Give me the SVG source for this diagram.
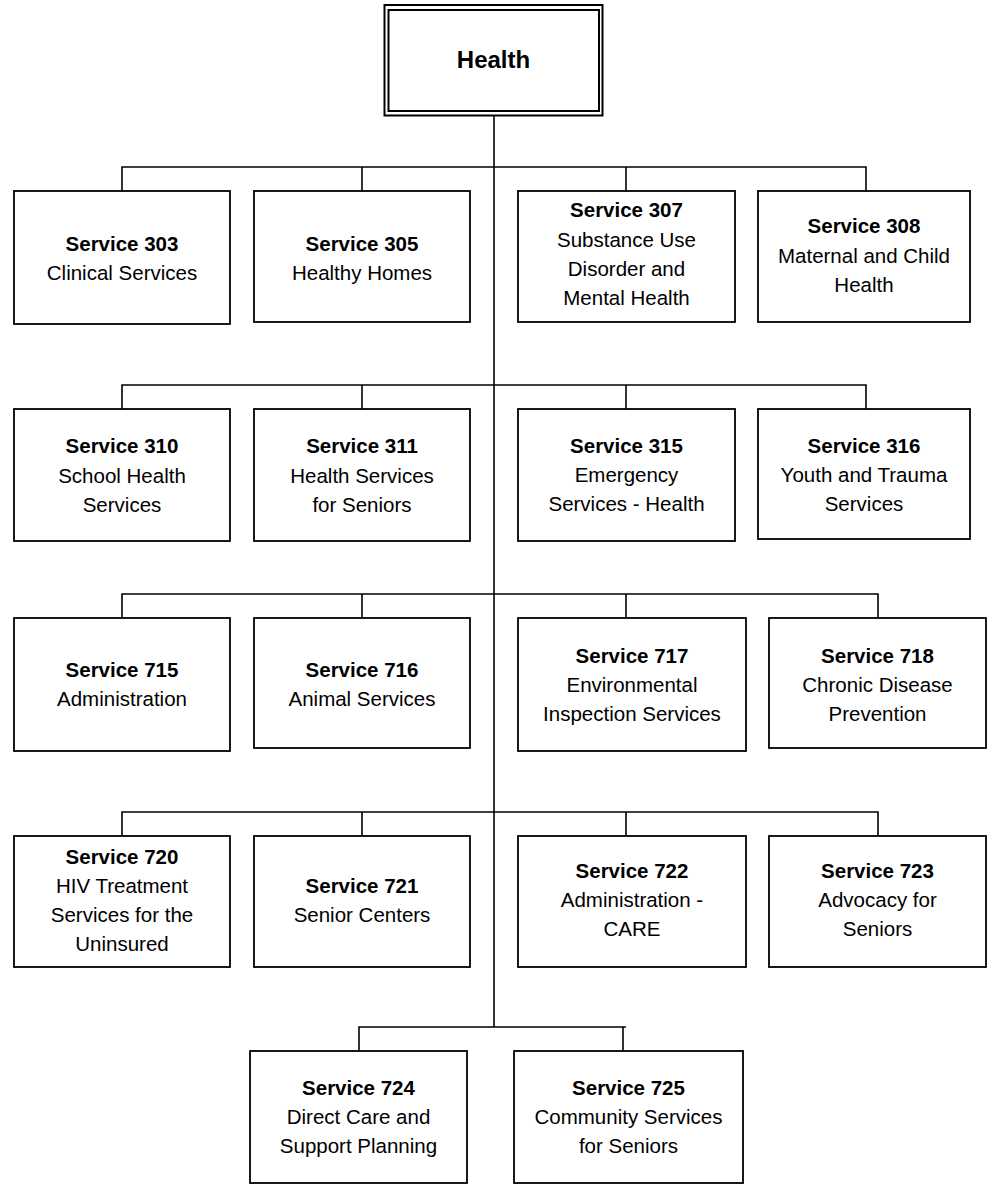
<svg xmlns="http://www.w3.org/2000/svg" width="992" height="1189" viewBox="0 0 992 1189">
<style>
.box{fill:#fff;stroke:#000;stroke-width:1.8}
.ln{fill:none;stroke:#000;stroke-width:1.6}
text{font-family:"Liberation Sans",Arial,sans-serif;font-size:20.5px;fill:#000;text-anchor:middle}
.b{font-weight:bold}
.h{font-weight:bold;font-size:24px}
</style>
<rect width="992" height="1189" fill="#fff"/>
<g id="connectors">
<path class="ln" d="M494 116V1027"/>
<path class="ln" d="M122 191V167H866V191M362 167V191M626 167V191"/>
<path class="ln" d="M122 409V385H866V409M362 385V409M626 385V409"/>
<path class="ln" d="M122 618V594H878V618M362 594V618M626 594V618"/>
<path class="ln" d="M122 836V812H878V836M362 812V836M626 812V836"/>
<path class="ln" d="M359 1051V1027H623V1051M623 1027H626"/>
</g>
<g id="health">
<rect x="384.5" y="5" width="218" height="110.5" fill="#fff" stroke="#000" stroke-width="2"/>
<rect x="388.5" y="10" width="210.5" height="101" fill="none" stroke="#000" stroke-width="2"/>
<text class="h" x="493.5" y="68">Health</text>
</g>
<g id="s303"><rect class="box" x="14" y="191" width="216" height="133"/><text x="122"><tspan class="b" x="122" y="251">Service 303</tspan><tspan x="122" y="280">Clinical Services</tspan></text></g>
<g id="s305"><rect class="box" x="254" y="191" width="216" height="131"/><text x="362"><tspan class="b" x="362" y="251">Service 305</tspan><tspan x="362" y="280">Healthy Homes</tspan></text></g>
<g id="s307"><rect class="box" x="518" y="191" width="217" height="131"/><text><tspan class="b" x="626.5" y="217">Service 307</tspan><tspan x="626.5" y="247">Substance Use</tspan><tspan x="626.5" y="276">Disorder and</tspan><tspan x="626.5" y="305">Mental Health</tspan></text></g>
<g id="s308"><rect class="box" x="758" y="191" width="212" height="131"/><text><tspan class="b" x="864" y="233">Service 308</tspan><tspan x="864" y="263">Maternal and Child</tspan><tspan x="864" y="292">Health</tspan></text></g>
<g id="s310"><rect class="box" x="14" y="409" width="216" height="132"/><text><tspan class="b" x="122" y="453">Service 310</tspan><tspan x="122" y="483">School Health</tspan><tspan x="122" y="512">Services</tspan></text></g>
<g id="s311"><rect class="box" x="254" y="409" width="216" height="132"/><text><tspan class="b" x="362" y="453">Service 311</tspan><tspan x="362" y="483">Health Services</tspan><tspan x="362" y="512">for Seniors</tspan></text></g>
<g id="s315"><rect class="box" x="518" y="409" width="217" height="132"/><text><tspan class="b" x="626.5" y="453">Service 315</tspan><tspan x="626.5" y="482">Emergency</tspan><tspan x="626.5" y="511">Services - Health</tspan></text></g>
<g id="s316"><rect class="box" x="758" y="409" width="212" height="130"/><text><tspan class="b" x="864" y="453">Service 316</tspan><tspan x="864" y="482">Youth and Trauma</tspan><tspan x="864" y="511">Services</tspan></text></g>
<g id="s715"><rect class="box" x="14" y="618" width="216" height="133"/><text><tspan class="b" x="122" y="677">Service 715</tspan><tspan x="122" y="706">Administration</tspan></text></g>
<g id="s716"><rect class="box" x="254" y="618" width="216" height="130"/><text><tspan class="b" x="362" y="677">Service 716</tspan><tspan x="362" y="706">Animal Services</tspan></text></g>
<g id="s717"><rect class="box" x="518" y="618" width="228" height="133"/><text><tspan class="b" x="632" y="663">Service 717</tspan><tspan x="632" y="692">Environmental</tspan><tspan x="632" y="721">Inspection Services</tspan></text></g>
<g id="s718"><rect class="box" x="769" y="618" width="217" height="130"/><text><tspan class="b" x="877.5" y="663">Service 718</tspan><tspan x="877.5" y="692">Chronic Disease</tspan><tspan x="877.5" y="721">Prevention</tspan></text></g>
<g id="s720"><rect class="box" x="14" y="836" width="216" height="131"/><text><tspan class="b" x="122" y="864">Service 720</tspan><tspan x="122" y="893">HIV Treatment</tspan><tspan x="122" y="922">Services for the</tspan><tspan x="122" y="951">Uninsured</tspan></text></g>
<g id="s721"><rect class="box" x="254" y="836" width="216" height="131"/><text><tspan class="b" x="362" y="893">Service 721</tspan><tspan x="362" y="922">Senior Centers</tspan></text></g>
<g id="s722"><rect class="box" x="518" y="836" width="228" height="131"/><text><tspan class="b" x="632" y="878">Service 722</tspan><tspan x="632" y="907">Administration -</tspan><tspan x="632" y="936">CARE</tspan></text></g>
<g id="s723"><rect class="box" x="769" y="836" width="217" height="131"/><text><tspan class="b" x="877.5" y="878">Service 723</tspan><tspan x="877.5" y="907">Advocacy for</tspan><tspan x="877.5" y="936">Seniors</tspan></text></g>
<g id="s724"><rect class="box" x="250" y="1051" width="217" height="132"/><text><tspan class="b" x="358.5" y="1095">Service 724</tspan><tspan x="358.5" y="1124">Direct Care and</tspan><tspan x="358.5" y="1153">Support Planning</tspan></text></g>
<g id="s725"><rect class="box" x="514" y="1051" width="229" height="132"/><text><tspan class="b" x="628.5" y="1095">Service 725</tspan><tspan x="628.5" y="1124">Community Services</tspan><tspan x="628.5" y="1153">for Seniors</tspan></text></g>
</svg>
